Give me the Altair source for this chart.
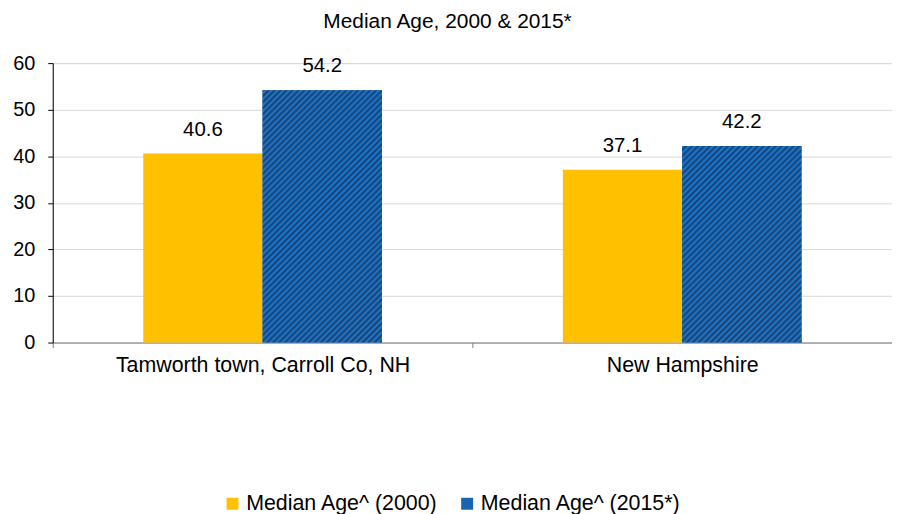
import math
import altair as alt
import pandas as pd

# ---- data ----
categories = ["Tamworth town, Carroll Co, NH", "New Hampshire"]
series = ["Median Age^ (2000)", "Median Age^ (2015*)"]
values_2000 = [40.6, 37.1]
values_2015 = [54.2, 42.2]
y_ticks = [0, 10, 20, 30, 40, 50, 60]
y_max = 60

rows = []
for c, a, b in zip(categories, values_2000, values_2015):
    rows.append({"cat": c, "series": series[0], "value": a})
    rows.append({"cat": c, "series": series[1], "value": b})
df = pd.DataFrame(rows)

# ---- layout / style ----
FONT = "Liberation Sans"
W, H = 844, 281
BAR_W = 120
band = W / len(categories)
pad_outer = (band / BAR_W - 2) / 2
YELLOW = "#FFC000"
BLUE_LIGHT = (22, 126, 218)
BLUE_DARK = (30, 58, 102)
BLUE_LEGEND = "#1A64B0"
SQ2 = 2 ** 0.5
PERIOD = 6 / SQ2  # perpendicular stripe period: 6 px horizontally
SEG_PX = 20       # hatch is painted in horizontal slices of about this height


def hexc(rgb):
    return "#%02x%02x%02x" % tuple(int(round(v)) for v in rgb)


def mix(a, b, f):
    return tuple(a[i] + (b[i] - a[i]) * f for i in range(3))


def slice_gradient(w, hs, top_px, period=PERIOD, c1=BLUE_LIGHT, c2=BLUE_DARK):
    """Soft 45-degree '/' stripes for a slice of a bar, phase-continuous across slices."""
    s = hs * (w + hs) / (w * w + hs * hs)
    L = (w + hs) / SQ2
    g0 = -top_px / SQ2
    half = period / 2

    def color_at(g):
        p = (g / half - 0.5) % 2.0
        f = p if p <= 1 else 2 - p
        return mix(c1, c2, f)

    stops = [{"offset": 0, "color": hexc(color_at(g0))}]
    m = math.floor(g0 / half - 0.5) + 1
    while (m + 0.5) * half < g0 + L:
        g = (m + 0.5) * half
        stops.append({"offset": (g - g0) / L, "color": hexc(c1 if m % 2 == 0 else c2)})
        m += 1
    stops.append({"offset": 1, "color": hexc(color_at(g0 + L))})
    return {"gradient": "linear", "x1": 0, "y1": 0, "x2": s * w / hs, "y2": s, "stops": stops}


x_enc = alt.X(
    "cat:N",
    sort=categories,
    scale=alt.Scale(paddingInner=0, paddingOuter=0),
    axis=alt.Axis(
        title=None, labelAngle=0, tickBand="extent", labelFont=FONT, labelFontSize=21.5,
        labelColor="#000000", labelPadding=7, labelLimit=0, tickSize=5, tickColor="#808080",
        domainColor="#808080", grid=False,
    ),
)
xo_enc = alt.XOffset(
    "series:N", sort=series,
    scale=alt.Scale(domain=series, paddingInner=0, paddingOuter=pad_outer),
)
y_axis = alt.Axis(
    title=None, values=y_ticks, labelFont=FONT, labelFontSize=20, labelColor="#000000",
    labelPadding=13, tickSize=5, tickColor="#000000", domainColor="#000000",
    gridColor="#D9D9D9", gridWidth=1,
)
y_scale = alt.Scale(domain=[0, y_max], nice=False)
y_enc = alt.Y("value:Q", scale=y_scale, axis=y_axis)

legend = alt.Legend(
    title=None, orient="none", direction="horizontal", legendX=170, legendY=432,
    symbolType="square", symbolSize=144, symbolStrokeWidth=0, labelFont=FONT,
    labelFontSize=21.5, labelColor="#000000", labelOffset=3, labelLimit=0, columnPadding=18,
)

base = alt.Chart(df)
yellow = base.transform_filter(alt.datum.series == series[0]).mark_bar().encode(
    x=x_enc, xOffset=xo_enc, y=y_enc,
    color=alt.Color("series:N", scale=alt.Scale(domain=series, range=[YELLOW, BLUE_LEGEND]), legend=legend),
)
layers = [yellow]
for c, v in zip(categories, values_2015):
    sel = base.transform_filter((alt.datum.series == series[1]) & (alt.datum.cat == c))
    # solid underlay, then striped slices on top
    layers.append(sel.mark_bar(fill=hexc(mix(BLUE_LIGHT, BLUE_DARK, 0.5))).encode(x=x_enc, xOffset=xo_enc, y=y_enc))
    h = v / y_max * H
    n = max(1, math.ceil(h / SEG_PX))
    hs = h / n
    for k in range(n):
        grad = slice_gradient(BAR_W, hs, (k + 1) * hs)
        layers.append(
            sel.transform_calculate(lo=f"datum.value*{k}/{n}", hi=f"datum.value*{k + 1}/{n}")
            .mark_bar(fill=grad)
            .encode(x=x_enc, xOffset=xo_enc, y=alt.Y("lo:Q", scale=y_scale, axis=y_axis), y2="hi:Q")
        )

labels = base.mark_text(baseline="alphabetic", dy=-18, font=FONT, fontSize=20.5, color="#000000").encode(
    x=x_enc, xOffset=xo_enc, y=y_enc, text=alt.Text("value:Q", format=".1f")
)
layers.append(labels)

chart = alt.layer(*layers).properties(
    width=W, height=H,
    title=alt.TitleParams(
        "Median Age, 2000 & 2015*", font=FONT, fontSize=21, fontWeight="normal",
        color="#000000", frame="group", anchor="middle", dx=-25, offset=21,
    ),
    autosize=alt.AutoSizeParams(type="none"),
    padding={"left": 45, "top": 54, "right": 0, "bottom": 171},
).configure_view(stroke=None).configure(background="white")

chart.save("out.html", embed_options={"renderer": "svg", "actions": False})
